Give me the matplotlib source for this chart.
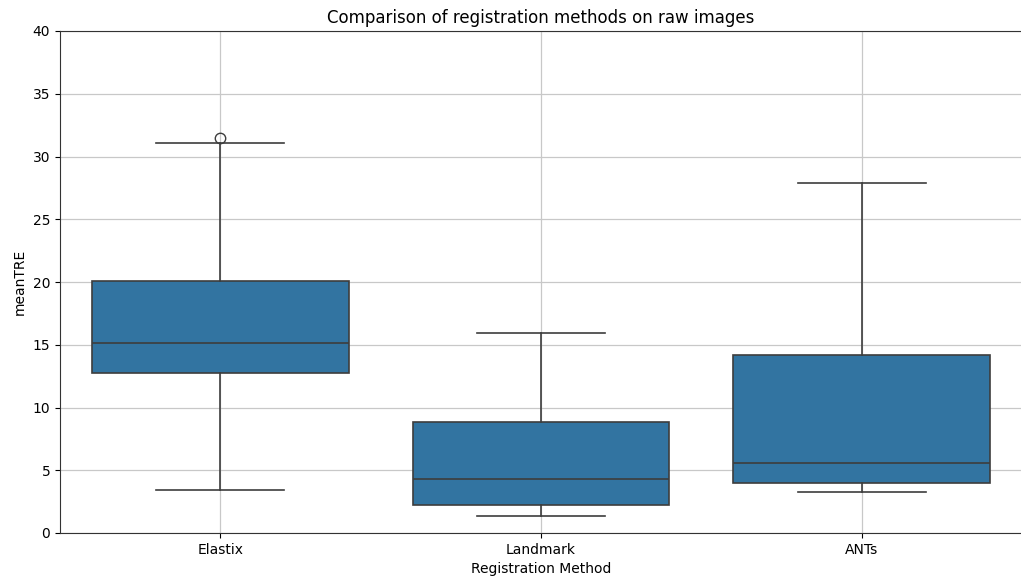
import matplotlib
matplotlib.use("Agg")
import matplotlib.pyplot as plt

# Values
methods = ["Elastix", "Landmark", "ANTs"]
whisker_low = [3.45, 1.38, 3.3]
q1 = [12.75, 2.2, 4.0]
median = [15.15, 4.3, 5.6]
q3 = [20.1, 8.82, 14.2]
whisker_high = [31.1, 15.9, 27.9]
outliers = [[31.5], [], []]

BOX_COLOR = "#3274a1"
LINE_COLOR = "#3d3d3d"

stats = []
for i, name in enumerate(methods):
    stats.append({
        "label": name,
        "whislo": whisker_low[i],
        "q1": q1[i],
        "med": median[i],
        "q3": q3[i],
        "whishi": whisker_high[i],
        "fliers": outliers[i],
    })

fig = plt.figure(figsize=(10.21, 5.76), dpi=100)
ax = fig.add_axes([60 / 1021, 43 / 576, 962 / 1021, 502 / 576])

ax.bxp(
    stats,
    positions=range(len(methods)),
    widths=0.8,
    patch_artist=True,
    showcaps=True,
    boxprops=dict(facecolor=BOX_COLOR, edgecolor=LINE_COLOR, linewidth=1.2),
    medianprops=dict(color=LINE_COLOR, linewidth=1.2),
    whiskerprops=dict(color=LINE_COLOR, linewidth=1.2),
    capprops=dict(color=LINE_COLOR, linewidth=1.2),
    capwidths=0.4,
    flierprops=dict(marker="o", markerfacecolor="none", markeredgecolor=LINE_COLOR,
                    markersize=7.5, markeredgewidth=1.0),
    zorder=3,
)

ax.set_xlim(-0.5, len(methods) - 0.5)
ax.set_ylim(0, 40)
ax.set_xticks(range(len(methods)))
ax.set_xticklabels(methods, fontsize=10)
ax.tick_params(axis="y", labelsize=10)
ax.set_axisbelow(True)
ax.grid(True, color="#c8c8c8", linewidth=0.9)
for s in ax.spines.values():
    s.set_color("#333333")

ax.set_title("Comparison of registration methods on raw images", fontsize=12)
ax.set_xlabel("Registration Method", fontsize=10)
ax.set_ylabel("meanTRE", fontsize=10)

fig.savefig("out.png", dpi=100)
